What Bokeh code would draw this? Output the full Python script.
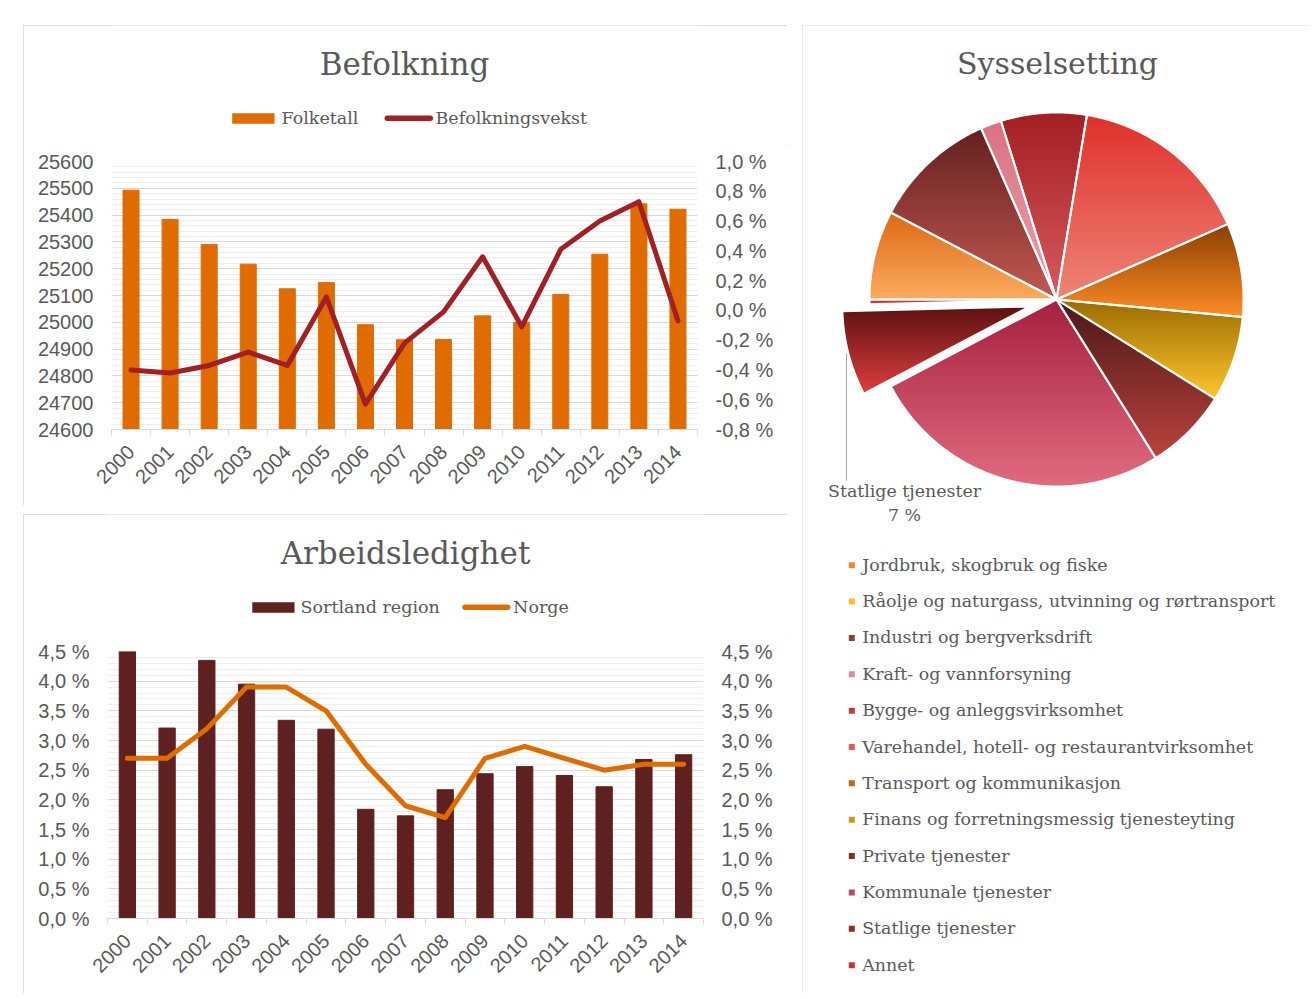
import math
import numpy as np
from bokeh.plotting import figure
from bokeh.models import Range1d, LinearAxis, FixedTicker, CustomJSTickFormatter
from bokeh.layouts import row, column
from bokeh.embed import file_html
from bokeh.resources import INLINE
from bokeh.core.properties import value

# ---------------- data ----------------
years = ["2000", "2001", "2002", "2003", "2004", "2005", "2006", "2007",
         "2008", "2009", "2010", "2011", "2012", "2013", "2014"]
folketall = [25493, 25384, 25290, 25217, 25125, 25148, 24991, 24935,
             24936, 25024, 25000, 25104, 25254, 25442, 25422]
befolkningsvekst = [-0.40, -0.42, -0.37, -0.28, -0.37, 0.09, -0.63, -0.22,
                    -0.01, 0.36, -0.11, 0.41, 0.60, 0.73, -0.07]
sortland_region = [4.50, 3.21, 4.35, 3.95, 3.34, 3.19, 1.84, 1.73,
                   2.17, 2.44, 2.56, 2.41, 2.22, 2.68, 2.76]
norge = [2.7, 2.7, 3.2, 3.9, 3.9, 3.5, 2.6, 1.9, 1.7, 2.7, 2.9, 2.7, 2.5, 2.6, 2.6]

sectors = ["Jordbruk, skogbruk og fiske",
           "Råolje og naturgass, utvinning og rørtransport",
           "Industri og bergverksdrift",
           "Kraft- og vannforsyning",
           "Bygge- og anleggsvirksomhet",
           "Varehandel, hotell- og restaurantvirksomhet",
           "Transport og kommunikasjon",
           "Finans og forretningsmessig tjenesteyting",
           "Private tjenester",
           "Kommunale tjenester",
           "Statlige tjenester",
           "Annet"]
shares = [7.7, 0.0, 10.7, 1.8, 7.4, 15.8, 8.1, 7.4, 7.2, 26.2, 7.3, 0.4]
grad_top = ["#DC6812", "#FFB000", "#63201F", "#DA7080", "#A21E22", "#DF302A",
            "#883E00", "#9A6C00", "#4A1818", "#A5203E", "#5C1010", "#B82828"]
grad_bottom = ["#FCAA5E", "#FFCC40", "#C45852", "#EAA2AE", "#D85A5E", "#EE8478",
               "#FF8C26", "#FFC42C", "#BA423C", "#E06A80", "#DC3E3E", "#D84040"]
exploded_sector = "Statlige tjenester"

# ---------------- style ----------------
TXT = "#595959"
GRID = "#D9D9D9"
MINOR = "#EEEEEE"
ORANGE = "#E06C00"
DARKRED = "#A21F24"
BROWN = "#5F2120"
SERIF = "DejaVu Serif"
SANS = "Liberation Sans"
PANEL = {"outline": "1px solid #D4D4D4", "outline-offset": "-1px"}
BASE_FIX = 0.33  # baseline correction (fraction of font size)

pct_fmt = CustomJSTickFormatter(code="return tick.toFixed(1).replace('.', ',') + ' %';")
xs_idx = list(range(len(years)))


def bl(y, size):
    return y - BASE_FIX * size


def pixel_fig(w, h, left=0, right=0):
    p = figure(width=w, height=h, x_range=Range1d(left, w - right), y_range=Range1d(h, 0),
               output_backend="svg", toolbar_location=None,
               x_axis_location=None, y_axis_location=None,
               min_border_left=left, min_border_right=right,
               min_border_top=0, min_border_bottom=0)
    p.title.visible = False
    p.outline_line_color = None
    p.grid.visible = False
    return p


def style_y(ax):
    ax.major_label_text_font = SANS
    ax.major_label_text_font_size = "20px"
    ax.major_label_text_color = TXT
    ax.axis_line_color = None
    ax.major_tick_line_color = None
    ax.minor_tick_line_color = None
    ax.major_tick_out = 0
    ax.minor_tick_out = 0
    ax.major_tick_in = 0
    ax.minor_tick_in = 0
    ax.major_label_standoff = 18


def style_x(p):
    ax = p.xaxis[0]
    ax.ticker = FixedTicker(ticks=xs_idx, minor_ticks=[i - 0.5 for i in range(len(years) + 1)])
    ax.major_label_overrides = {i: y for i, y in enumerate(years)}
    ax.major_label_orientation = math.pi / 4
    ax.major_label_text_font = SANS
    ax.major_label_text_font_size = "20px"
    ax.major_label_text_color = TXT
    ax.axis_line_color = GRID
    ax.major_tick_line_color = None
    ax.major_tick_out = 0
    ax.major_tick_in = 0
    ax.minor_tick_line_color = GRID
    ax.minor_tick_out = 6
    ax.minor_tick_in = 0
    ax.major_label_standoff = 13


def chart_fig(w, h, left, right, top, bottom, yr):
    p = figure(width=w, height=h, x_range=Range1d(-0.5, len(years) - 0.5), y_range=yr,
               output_backend="svg", toolbar_location=None,
               min_border_left=left, min_border_right=right,
               min_border_top=top, min_border_bottom=bottom)
    p.title.visible = False
    p.outline_line_color = None
    p.xgrid.grid_line_color = None
    p.ygrid.grid_line_color = GRID
    p.ygrid.minor_grid_line_color = MINOR
    style_x(p)
    style_y(p.yaxis[0])
    return p


def header(w, h, left, right, title, title_x, entries):
    """entries: (label, kind, color, swatch_x0, swatch_x1, text_x) in panel pixels"""
    hp = pixel_fig(w, h, left, right)
    hp.text(x=[title_x], y=[bl(49.2, 31)], text=[title], text_font=value(SERIF),
            text_font_size="31px", text_color=TXT, text_align="center",
            text_baseline="alphabetic")
    for label, kind, color, x0, x1, tx in entries:
        if kind == "bar":
            hp.quad(left=[x0], right=[x1], top=[87.7], bottom=[98.3],
                    fill_color=color, line_color=None)
        else:
            hp.segment(x0=[x0 + 2.5], y0=[92.8], x1=[x1 - 2.5], y1=[92.8],
                       line_color=color, line_width=5.5, line_cap="round")
        hp.text(x=[tx], y=[bl(98.0, 17.5)], text=[label], text_font=value(SERIF),
                text_font_size="17.5px", text_color=TXT, text_baseline="alphabetic")
    return hp


HEAD_H = 120

# ---------------- Befolkning ----------------
h1 = header(764, HEAD_H, 88, 90, "Befolkning", 381,
            [("Folketall", "bar", ORANGE, 208.7, 251.0, 258.0),
             ("Befolkningsvekst", "line", DARKRED, 361.3, 409.3, 412.0)])
p1 = chart_fig(764, 480 - HEAD_H, 88, 90, 16, 76, Range1d(24600, 25600))
p1.yaxis[0].ticker = FixedTicker(ticks=list(range(24600, 25601, 100)),
                                 minor_ticks=list(range(24600, 25601, 20)))
p1.extra_y_ranges = {"pct": Range1d(-0.8, 1.0)}
ax_r1 = LinearAxis(y_range_name="pct",
                   ticker=FixedTicker(ticks=[round(v, 1) for v in np.arange(-0.8, 1.01, 0.2)]),
                   formatter=pct_fmt)
style_y(ax_r1)
p1.add_layout(ax_r1, "right")
p1.vbar(x=xs_idx, top=folketall, bottom=p1.y_range.start, width=0.41,
        fill_color=ORANGE, line_color=ORANGE)
p1.line(xs_idx, befolkningsvekst, y_range_name="pct", line_width=5,
        line_color=DARKRED, line_join="round", line_cap="round")

# ---------------- Arbeidsledighet ----------------
h2 = header(764, HEAD_H, 84, 84, "Arbeidsledighet", 382,
            [("Sortland region", "bar", BROWN, 228.8, 271.0, 277.0),
             ("Norge", "line", ORANGE, 439.0, 486.7, 489.6)])
p2 = chart_fig(764, 479 - HEAD_H, 84, 84, 17, 75, Range1d(0, 4.5))
pct_ticks = [round(v, 1) for v in np.arange(0, 4.51, 0.5)]
p2.yaxis[0].ticker = FixedTicker(ticks=pct_ticks,
                                 minor_ticks=[round(v, 2) for v in np.arange(0, 4.51, 0.1)])
p2.yaxis[0].formatter = pct_fmt
p2.extra_y_ranges = {"r": Range1d(0, 4.5)}
ax_r2 = LinearAxis(y_range_name="r", ticker=FixedTicker(ticks=pct_ticks), formatter=pct_fmt)
style_y(ax_r2)
p2.add_layout(ax_r2, "right")
p2.vbar(x=xs_idx, top=sortland_region, bottom=0, width=0.41,
        fill_color=BROWN, line_color=BROWN)
p2.line(xs_idx, norge, line_width=5, line_color=ORANGE,
        line_join="round", line_cap="round")

# ---------------- Sysselsetting (pie) ----------------
W3, H3 = 508, 968
p3 = pixel_fig(W3, H3)
p3.styles = PANEL

CX, CY, R = 254.0, 274.0, 187.0
EXPLODE = 28.0
N_STRIPS = 44


def hex2rgb(h):
    h = h.lstrip("#")
    return np.array([int(h[i:i + 2], 16) for i in (0, 2, 4)], dtype=float)


def rgb2hex(c):
    c = np.clip(np.round(c), 0, 255).astype(int)
    return "#%02x%02x%02x" % tuple(c)


def clip_half(pts, keep, yc):
    out = []
    n = len(pts)
    for i in range(n):
        cur, prev = pts[i], pts[i - 1]
        cin, pin = keep(cur), keep(prev)
        if cin != pin:
            t = (yc - prev[1]) / (cur[1] - prev[1])
            out.append((prev[0] + t * (cur[0] - prev[0]), yc))
        if cin:
            out.append(cur)
    return out


strip_xs, strip_ys, strip_col = [], [], []
out_xs, out_ys = [], []
total = float(sum(shares))
start = 180.0
for name, s, ct, cb in zip(sectors, shares, grad_top, grad_bottom):
    span = s / total * 360.0
    a0, a1 = start, start - span
    start = a1
    if s <= 0:
        continue
    cx, cy = CX, CY
    if name == exploded_sector:
        mid = math.radians((a0 + a1) / 2)
        cx += EXPLODE * math.cos(mid)
        cy -= EXPLODE * math.sin(mid)
    th = np.radians(np.linspace(a0, a1, max(3, int(span * 2) + 2)))
    px = np.concatenate([[cx], cx + R * np.cos(th)])
    py = np.concatenate([[cy], cy - R * np.sin(th)])
    out_xs.append(px.tolist())
    out_ys.append(py.tolist())
    pts = list(zip(px, py))
    ymin, ymax = py.min(), py.max()
    edges = np.linspace(ymin, ymax, N_STRIPS + 1)
    c0, c1 = hex2rgb(ct), hex2rgb(cb)
    for k in range(N_STRIPS):
        ya, yb = edges[k] - (0.8 if k > 0 else 0), edges[k + 1]
        q = clip_half(pts, lambda p, ya=ya: p[1] >= ya, ya)
        if len(q) < 3:
            continue
        q = clip_half(q, lambda p, yb=yb: p[1] <= yb, yb)
        if len(q) < 3:
            continue
        f = (k + 0.5) / N_STRIPS
        strip_xs.append([a for a, _ in q])
        strip_ys.append([b for _, b in q])
        strip_col.append(rgb2hex(c0 + (c1 - c0) * f))

p3.patches(strip_xs, strip_ys, fill_color=strip_col, line_color=None)
p3.patches(out_xs, out_ys, fill_color=None, line_color="white", line_width=2, line_join="round")

# title
p3.text(x=[CX + 1], y=[bl(47.5, 30)], text=["Sysselsetting"], text_font=value(SERIF),
        text_font_size="30px", text_color=TXT, text_align="center",
        text_baseline="alphabetic")

# data label for exploded slice
ei = sectors.index(exploded_sector)
lab_x = 102
p3.segment(x0=[44], y0=[328], x1=[44], y1=[455], line_color="#A6A6A6", line_width=1)
p3.text(x=[lab_x, lab_x], y=[bl(471.7, 17.4), bl(495, 17.4)],
        text=[sectors[ei], "%d %%" % round(shares[ei] / total * 100)],
        text_font=value(SERIF), text_font_size="17.4px", text_color=TXT,
        text_align="center", text_baseline="alphabetic")

# legend
mid_cols = [rgb2hex((hex2rgb(a) + hex2rgb(b)) / 2) for a, b in zip(grad_top, grad_bottom)]
ly = [545 + 36.36 * i for i in range(len(sectors))]
p3.rect(x=[49.3] * len(sectors), y=[v - 5.3 for v in ly], width=6, height=6,
        fill_color=mid_cols, line_color=None)
p3.text(x=[59.7] * len(sectors), y=[bl(v, 17.4) for v in ly], text=sectors,
        text_font=value(SERIF), text_font_size="17.4px", text_color=TXT,
        text_baseline="alphabetic")

panel1 = column(h1, p1, spacing=0, styles=PANEL)
panel2 = column(h2, p2, spacing=0, styles=PANEL)
left = column(panel1, panel2, spacing=9)
root = row(left, p3, spacing=15)
root.margin = (25, 0, 0, 23)

open("out.html", "w").write(file_html(root, INLINE))
